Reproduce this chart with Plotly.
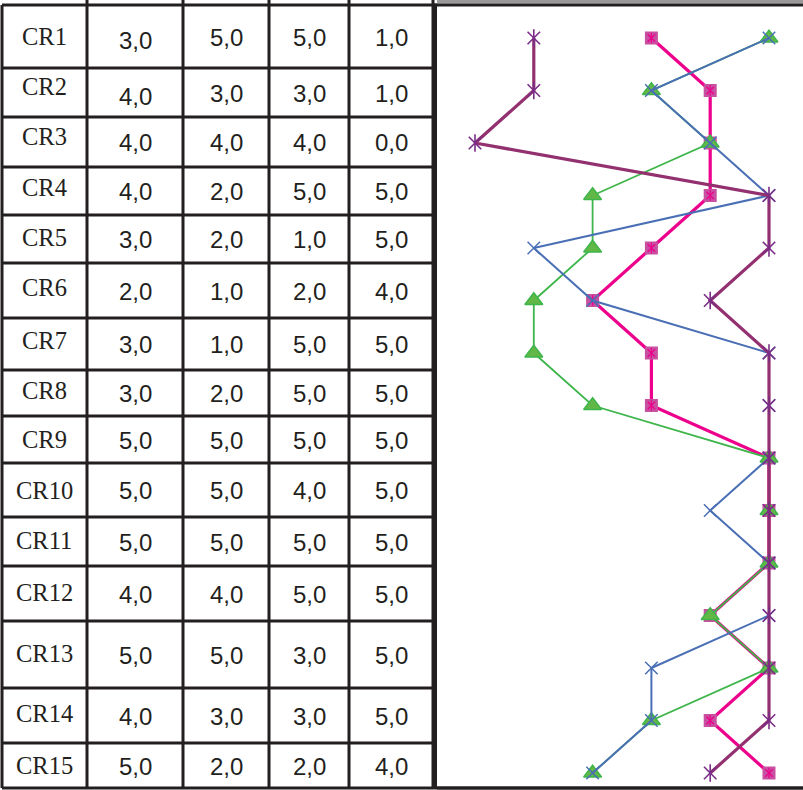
import plotly.graph_objects as go

# ---------------- data ----------------
categories = ["CR1", "CR2", "CR3", "CR4", "CR5", "CR6", "CR7", "CR8",
              "CR9", "CR10", "CR11", "CR12", "CR13", "CR14", "CR15"]
col1 = [3, 4, 4, 4, 3, 2, 3, 3, 5, 5, 5, 4, 5, 4, 5]
col2 = [5, 3, 4, 2, 2, 1, 1, 2, 5, 5, 5, 4, 5, 3, 2]
col3 = [5, 3, 4, 5, 1, 2, 5, 5, 5, 4, 5, 5, 3, 3, 2]
col4 = [1, 1, 0, 5, 5, 4, 5, 5, 5, 5, 5, 5, 5, 5, 4]

# ---------------- layout geometry (pixels) ----------------
W, H = 803, 790
row_lines = [5, 68, 117, 167, 215, 263, 318, 370, 416, 463, 517, 566, 621, 688, 743, 788]
col_lines = [2, 87, 183, 269, 349, 433]
label_dy = [1.5, -5, -4.5, -2.5, -0.5, -2, -2.5, -1.5, 1, 1.5, 0, 0.5, 0, -0.5, 1]
INK = "#231F20"

fig = go.Figure()

# chart axis mapping: value v -> pixel 475 + 58.8 v ; row i -> pixel 38 + 52.5 i
x0px, xstep = 475.0, 58.8
y0px, ystep = 38.0, 52.5
xr = [-x0px / xstep, (W - x0px) / xstep]
yr = [(H - y0px) / ystep, -y0px / ystep]

series = [
    dict(vals=col1, line="#EC008C", lw=3.2, kind="square"),
    dict(vals=col2, line="#3DB54A", lw=1.8, kind="triangle"),
    dict(vals=col3, line="#4A6FB5", lw=2.0, kind="x"),
    dict(vals=col4, line="#93306F", lw=3.2, kind="star"),
]


def open_marker(vals, sym, size, color, width):
    return go.Scatter(x=vals, y=categories, xaxis="x2", yaxis="y2", mode="markers",
                      marker=dict(symbol=sym, size=size, color=color,
                                  line=dict(width=width, color=color)),
                      hoverinfo="skip", showlegend=False)


for s in series:
    fig.add_trace(go.Scatter(x=s["vals"], y=categories, xaxis="x2", yaxis="y2",
                             mode="lines", line=dict(color=s["line"], width=s["lw"]),
                             hoverinfo="skip", showlegend=False))
    if s["kind"] == "square":
        fig.add_trace(go.Scatter(x=s["vals"], y=categories, xaxis="x2", yaxis="y2", mode="markers",
                                 marker=dict(symbol="square", size=13, color="#C850A0",
                                             line=dict(width=0)),
                                 hoverinfo="skip", showlegend=False))
        for sym in ["x-thin-open", "line-ns-open"]:
            fig.add_trace(open_marker(s["vals"], sym, 7.5, "#EC008C", 1.2))
    elif s["kind"] == "triangle":
        fig.add_trace(go.Scatter(x=s["vals"], y=categories, xaxis="x2", yaxis="y2", mode="markers",
                                 marker=dict(symbol="triangle-up", size=15.5, color="#62B846",
                                             line=dict(width=1.5, color="#3DB54A")),
                                 hoverinfo="skip", showlegend=False))
    elif s["kind"] == "x":
        fig.add_trace(open_marker(s["vals"], "x-thin-open", 12.5, "#4A6FB5", 1.5))
    else:
        for sym in ["x-thin-open", "line-ns-open"]:
            fig.add_trace(open_marker(s["vals"], sym, 12.5, "#7A2D86", 1.6))

shapes = []
# table grid
for yv in row_lines:
    shapes.append(dict(type="line", xref="x", yref="y", x0=col_lines[0], x1=437, y0=yv, y1=yv,
                       line=dict(color=INK, width=3)))
for i, xv in enumerate(col_lines):
    top = row_lines[0] if i == 0 else 0
    shapes.append(dict(type="line", xref="x", yref="y", x0=xv, x1=xv, y0=top, y1=row_lines[-1],
                       line=dict(color=INK, width=3)))
# chart frame
shapes.append(dict(type="rect", xref="x", yref="y", x0=437, x1=W, y0=0, y1=3.5,
                   fillcolor="#9A9A9A", line=dict(width=0)))
shapes.append(dict(type="line", xref="x", yref="y", x0=433, x1=W, y0=5, y1=5,
                   line=dict(color=INK, width=3)))
shapes.append(dict(type="line", xref="x", yref="y", x0=435.5, x1=435.5, y0=5, y1=789,
                   line=dict(color=INK, width=3)))
shapes.append(dict(type="line", xref="x", yref="y", x0=437, x1=W, y0=788, y1=788,
                   line=dict(color=INK, width=3.5)))

annotations = []
value_cols = [col1, col2, col3, col4]
for i, cat in enumerate(categories):
    yc = (row_lines[i] + row_lines[i + 1]) / 2
    annotations.append(dict(xref="x", yref="y", x=(col_lines[0] + col_lines[1]) / 2 - 0.5,
                            y=yc + label_dy[i] - 1.5,
                            text=cat, showarrow=False, xanchor="center", yanchor="middle",
                            font=dict(family="Liberation Serif", size=24.5, color=INK)))
    for j, vals in enumerate(value_cols):
        xc = (col_lines[j + 1] + col_lines[j + 2]) / 2
        txt = f"{vals[i]:.1f}".replace(".", ",")
        extra = 3 if (j == 0 and i < 2) else 0
        annotations.append(dict(xref="x", yref="y", x=xc, y=yc + 0.5 + extra,
                                text=txt, showarrow=False, xanchor="center", yanchor="middle",
                                font=dict(family="Liberation Sans", size=24, color=INK)))

fig.update_layout(
    width=W, height=H, margin=dict(l=0, r=0, t=0, b=0),
    paper_bgcolor="white", plot_bgcolor="rgba(0,0,0,0)",
    xaxis=dict(range=[0, W], visible=False, domain=[0, 1], fixedrange=True),
    yaxis=dict(range=[H, 0], visible=False, domain=[0, 1], fixedrange=True),
    xaxis2=dict(range=xr, visible=False, overlaying="x", domain=[0, 1]),
    yaxis2=dict(range=yr, visible=False, overlaying="y", type="category",
                categoryorder="array", categoryarray=categories),
    shapes=shapes, annotations=annotations, showlegend=False,
)

fig.write_html("out.html", config={"displayModeBar": False},
               post_script="document.body.style.margin='0';document.body.style.overflow='hidden';")
